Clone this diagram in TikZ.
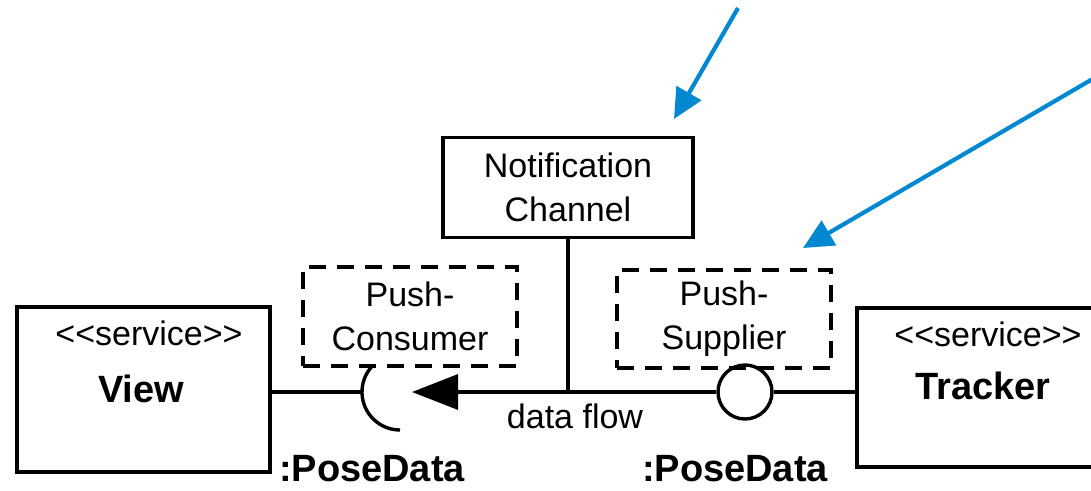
\documentclass[tikz,border=0pt]{standalone}
\usepackage{fontspec}
\setmainfont{Liberation Sans}
\usetikzlibrary{arrows.meta}
\definecolor{noteblue}{RGB}{0,137,210}
\newcommand{\stereo}[1]{{<}{<}#1{>}{>}}
\begin{document}
\begin{tikzpicture}[x=1pt,y=1pt,
  line width=3.4pt,
  txt/.style={font=\fontsize{34}{44}\selectfont, align=center, inner sep=0pt},
  bold/.style={font=\fontsize{38}{44}\selectfont\bfseries, inner sep=0pt},
  box/.style={draw, rectangle, inner sep=0pt},
  dbox/.style={draw, rectangle, inner sep=0pt, dash pattern=on 17pt off 11pt},
  callout/.style={draw=noteblue, line width=4.2pt, -{Triangle[length=30pt,width=28pt]}}]
\useasboundingbox (0,0) rectangle (1091,-490);

% components and channel
\node[box, minimum width=253pt, minimum height=165pt] (view) at (143.5,-389.5) {};
\node[txt] (viewst) at (149,-333) {\stereo{service}};
\node[bold] (viewname) at (141,-389) {View};

\node[box, minimum width=270pt, minimum height=159pt] (tracker) at (992,-387.5) {};
\node[txt] (trackst) at (988,-334) {\stereo{service}};
\node[bold] (trackname) at (983,-386) {Tracker};

\node[box, minimum width=250pt, minimum height=100pt, txt] (channel) at (568,-187.5) {Notification\\Channel};

% proxy roles
\node[dbox, minimum width=214pt, minimum height=99pt, txt] (consumer) at (410,-316.5) {Push-\\Consumer};
\node[dbox, minimum width=214pt, minimum height=98pt, txt] (supplier) at (724,-319) {Push-\\Supplier};

% required interface (socket) and provided interface (ball)
\coordinate (sockc) at (400,-392);
\coordinate (sockw) at (362,-392);
\draw (view.east |- sockw) -- (sockw);
\draw (sockc) ++(137:38) arc[start angle=137, end angle=270, radius=38];
\node[draw, circle, minimum size=54pt, inner sep=0pt] (ball) at (745,-392) {};
\draw (ball.east) -- (tracker.west |- ball.east);

% data flow through the channel
\coordinate (tip) at (412,-392);
\draw[-{Triangle[length=46pt,width=35pt]}] (ball.west) -- (tip);
\draw (channel.south) -- (channel.south |- tip);
\node[txt] (flow) at (575,-416) {data flow};

% interface labels
\node[bold] (lpose) at (372,-469) {:PoseData};
\node[bold] (rpose) at (735,-469) {:PoseData};

% callout arrows
\coordinate (c1) at (738,-8);
\coordinate (t1) at (674,-119);
\coordinate (c2) at (1096,-77);
\coordinate (t2) at (803,-248);
\draw[callout] (c1) -- (t1);
\draw[callout] (c2) -- (t2);
\end{tikzpicture}
\end{document}
